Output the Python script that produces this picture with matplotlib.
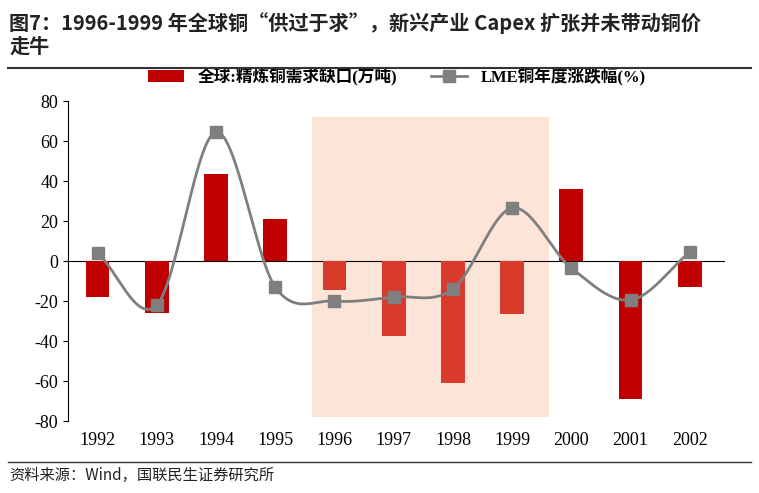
import numpy as np
import matplotlib.pyplot as plt
from matplotlib.patches import Rectangle

plt.rcParams['font.family'] = ['Liberation Serif', 'Noto Sans CJK SC']
plt.rcParams['axes.unicode_minus'] = False

years = [1992, 1993, 1994, 1995, 1996, 1997, 1998, 1999, 2000, 2001, 2002]
gap = [-18, -26, 43.5, 21, -14.5, -37.5, -61, -26.5, 36, -69, -13]
lme = [4, -22, 64.5, -13, -20, -18, -14, 26.5, -3.5, -19.5, 4.5]
highlight = [1996, 1997, 1998, 1999]


def smooth(x, y, n=30):
    # Catmull-Rom curve through the points
    x = np.asarray(x, float)
    y = np.asarray(y, float)
    px = np.concatenate([[2 * x[0] - x[1]], x, [2 * x[-1] - x[-2]]])
    py = np.concatenate([[2 * y[0] - y[1]], y, [2 * y[-1] - y[-2]]])
    xs, ys = [], []
    t = np.linspace(0, 1, n)
    for i in range(1, len(px) - 2):
        for arr, out in ((px, xs), (py, ys)):
            p0, p1, p2, p3 = arr[i - 1:i + 3]
            out.extend(0.5 * (2 * p1 + (-p0 + p2) * t + (2 * p0 - 5 * p1 + 4 * p2 - p3) * t ** 2
                              + (-p0 + 3 * p1 - 3 * p2 + p3) * t ** 3))
    return xs, ys


fig = plt.figure(figsize=(7.59, 4.93), dpi=100)
ax = fig.add_axes([0.0896, 0.146, 0.866, 0.649])

ax.add_patch(Rectangle((1995.62, -78), 4.0, 150, color='#fce4d6', zorder=0, lw=0))

colors = ['#d93a2b' if y in highlight else '#c00000' for y in years]
bars = ax.bar(years, gap, width=0.4, color=colors, zorder=2)
sx, sy = smooth(years, lme)
ax.plot(sx, sy, color='#7f7f7f', lw=2, zorder=3)
ax.plot(years, lme, 's', color='#7f7f7f', ms=8, zorder=4)
line_h, = ax.plot([], [], '-s', color='#7f7f7f', lw=2, ms=8)
ax.axhline(0, color='black', lw=0.8, zorder=1)

ax.set_xlim(1991.5, 2002.6)
ax.set_ylim(-80, 80)
ax.set_yticks(range(-80, 81, 20))
ax.set_xticks(years)
ax.tick_params(axis='x', length=0, pad=8, labelsize=13)
ax.tick_params(axis='y', labelsize=13, direction='out')
for s in ['top', 'right', 'bottom']:
    ax.spines[s].set_visible(False)

ax.legend([bars[0], line_h], ['全球:精炼铜需求缺口(万吨)', 'LME铜年度涨跌幅(%)'],
          loc='lower center', bbox_to_anchor=(0.5, 1.0), ncol=2, frameon=False,
          prop={'family': ['Liberation Serif', 'Noto Sans CJK SC'], 'size': 12, 'weight': 'bold'},
          handlelength=2.2, columnspacing=2)

fig.text(0.012, 0.975, '图7：1996-1999 年全球铜“供过于求”，新兴产业 Capex 扩张并未带动铜价\n走牛',
         fontsize=14.5, weight='bold', family=['Noto Sans CJK SC'], va='top', color='#222222',
         linespacing=1.1)
fig.add_artist(plt.Line2D([0.01, 0.99], [0.862, 0.862], color='#333333', lw=1.5))
fig.add_artist(plt.Line2D([0.01, 0.99], [0.063, 0.063], color='#333333', lw=1))
fig.text(0.012, 0.035, '资料来源：Wind，国联民生证券研究所', fontsize=11,
         family=['Noto Sans CJK SC'], va='center', color='#222222')

fig.savefig('out.png', dpi=100)
